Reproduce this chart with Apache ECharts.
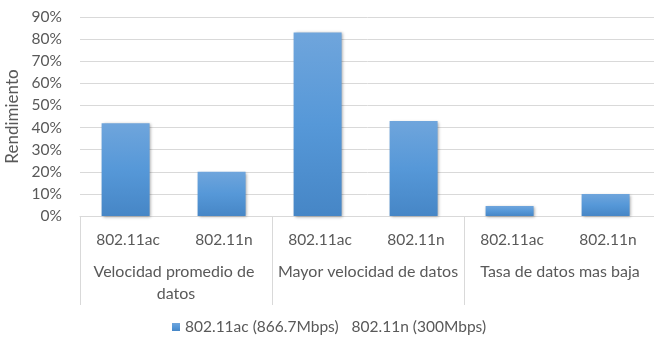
<!DOCTYPE html>
<html>
<head>
<meta charset="utf-8">
<script src="https://cdn.jsdelivr.net/npm/echarts@6/dist/echarts.min.js"></script>
<style>
html,body{margin:0;padding:0;background:#fff;}
#chart{width:654px;height:339px;}
</style>
</head>
<body>
<div id="chart"></div>
<script>
var subCategories = ['802.11ac','802.11n','802.11ac','802.11n','802.11ac','802.11n'];
var groupCategories = ['Velocidad promedio de datos','Mayor velocidad de datos','Tasa de datos mas baja'];
var seriesNames = ['802.11ac (866.7Mbps)','802.11n (300Mbps)'];
var rendimiento = [42, 20, 83, 43, 4.5, 10];
var yTicks = [0,10,20,30,40,50,60,70,80,90];

var FONT = 'Lato';
var GREY = '#595959';
var chart = echarts.init(document.getElementById('chart'), null, {renderer:'canvas'});
var barColor = new echarts.graphic.LinearGradient(0,0,0,1,[
  {offset:0,color:'#6fa5dc'},
  {offset:0.5,color:'#5698d8'},
  {offset:1,color:'#4686c6'}
]);
chart.setOption({
  animation:false,
  textStyle:{fontFamily:FONT},
  grid:{left:80,right:-2,top:17,bottom:123,containLabel:false,outerBoundsMode:'none'},
  legend:{
    left:167, top:314,
    itemWidth:8,itemHeight:8,itemGap:0,
    textStyle:{fontFamily:FONT,fontSize:15.5,color:GREY},
    data:[{name:seriesNames[0],icon:'rect'},{name:seriesNames[1],icon:'rect'}]
  },
  xAxis:[{
    type:'category',
    data:subCategories,
    position:'bottom',
    axisLine:{show:true,lineStyle:{color:'#d9d9d9',width:1}},
    axisTick:{show:false},
    axisLabel:{interval:0,margin:16,fontFamily:FONT,fontSize:15.5,lineHeight:15,color:GREY}
  },{
    type:'category',
    data:groupCategories,
    position:'bottom',
    axisLine:{show:false},
    axisTick:{show:true,length:89,interval:0,lineStyle:{color:'#d9d9d9',width:1}},
    axisLabel:{interval:0,margin:45,fontFamily:FONT,fontSize:16,lineHeight:22,color:GREY,width:184,overflow:'break',align:'center'}
  }],
  yAxis:{
    type:'value',min:0,max:90,interval:10,
    name:'Rendimiento',nameLocation:'middle',nameGap:52,nameRotate:90,
    nameTextStyle:{fontFamily:FONT,fontSize:17,color:GREY},
    axisLine:{show:false},axisTick:{show:false},
    axisLabel:{margin:18,fontFamily:FONT,fontSize:15.5,color:GREY,
      formatter:function(v){return yTicks.indexOf(v)>=0?v+'%':'';}},
    splitLine:{lineStyle:{color:'#d9d9d9',width:1}}
  },
  series:[{
    name:seriesNames[0],type:'bar',xAxisIndex:0,
    data:rendimiento,barWidth:'50%',
    itemStyle:{color:barColor,shadowBlur:3,shadowColor:'rgba(0,0,0,0.35)',shadowOffsetX:1,shadowOffsetY:1}
  },{
    name:seriesNames[1],type:'bar',xAxisIndex:0,
    data:[],
    itemStyle:{color:'rgba(0,0,0,0)'}
  }]
});
</script>
</body>
</html>
